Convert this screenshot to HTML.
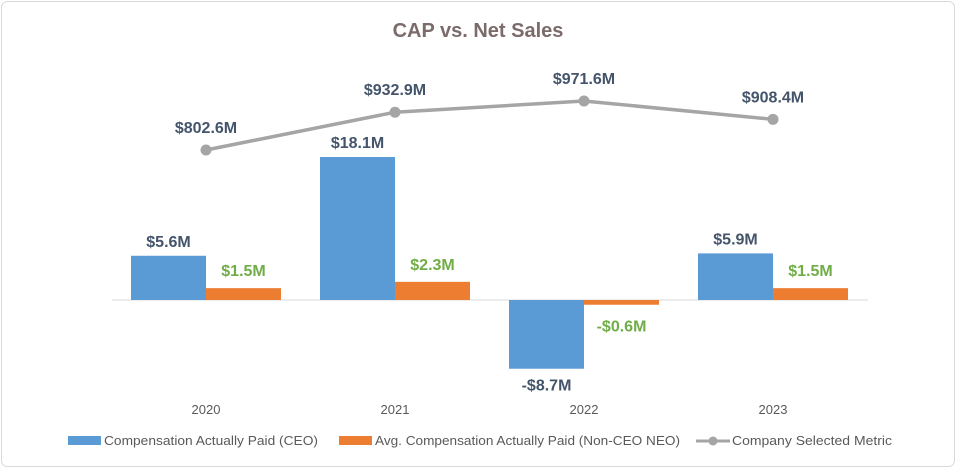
<!DOCTYPE html>
<html><head><meta charset="utf-8"><style>
body{margin:0;background:#fff;}
svg{display:block;font-family:"Liberation Sans",sans-serif;}
</style></head><body>
<svg id="chart" width="956" height="468" viewBox="0 0 956 468">
<rect x="1.5" y="1.5" width="953" height="465" rx="6" fill="#fff" stroke="#d9d9d9"/>
<text x="478" y="37" text-anchor="middle" font-size="20" font-weight="bold" fill="#7b6b6b">CAP vs. Net Sales</text>
<line x1="112" y1="300" x2="868" y2="300" stroke="#d9d9d9"/>
<g id="bars"></g><g id="line"></g><g id="labels"></g>
<g>
<rect x="68" y="436" width="33" height="9" fill="#5b9bd5"/>
<text x="104" y="445" font-size="13" fill="#595959" textLength="214" lengthAdjust="spacingAndGlyphs">Compensation Actually Paid (CEO)</text>
<rect x="339" y="436" width="33" height="9" fill="#ed7d31"/>
<text x="375" y="445" font-size="13" fill="#595959" textLength="305" lengthAdjust="spacingAndGlyphs">Avg. Compensation Actually Paid (Non-CEO NEO)</text>
<line x1="696" y1="441" x2="730" y2="441" stroke="#a5a5a5" stroke-width="3"/>
<circle cx="713" cy="441" r="4.5" fill="#a5a5a5"/>
<text x="732" y="445" font-size="13" fill="#595959" textLength="160" lengthAdjust="spacingAndGlyphs">Company Selected Metric</text>
</g>
</svg>
<script>
const categories=["2020","2021","2022","2023"];
const ceoValues=[5.6,18.1,-8.7,5.9];
const neoValues=[1.5,2.3,-0.6,1.5];
const metricValues=[802.6,932.9,971.6,908.4];
const ns="http://www.w3.org/2000/svg";
const svg=document.getElementById('chart');
function mk(t,a,p){const e=document.createElementNS(ns,t);for(const k in a)e.setAttribute(k,a[k]);p.appendChild(e);return e;}
const x0=206,step=189,bw=75;
function xC(i){return x0+i*step;}
function yB(v){return 300-v*7.9;}
function yL(v){return 150-(v-802.6)*0.29;}
function fmt(v){return (v<0?"-$":"$")+Math.abs(v).toFixed(1)+"M";}
const gb=document.getElementById('bars'),gl=document.getElementById('line'),gt=document.getElementById('labels');
categories.forEach((c,i)=>{
 const cx=xC(i);
 let y1=yB(ceoValues[i]);
 let r=mk('rect',{x:cx-bw,y:Math.min(y1,300),width:bw,height:Math.abs(300-y1),fill:'#5b9bd5'},gb);
 
 
 let y2=yB(neoValues[i]);
 r=mk('rect',{x:cx,y:Math.min(y2,300),width:bw,height:Math.abs(300-y2),fill:'#ed7d31'},gb);
 
 
 let t=mk('text',{x:cx-bw/2,y:ceoValues[i]>=0?y1-9:y1+22,'text-anchor':'middle','font-size':16,'font-weight':'bold',fill:'#44546a'},gt);
 t.textContent=fmt(ceoValues[i]);
 
 
 t=mk('text',{x:cx+bw/2,y:neoValues[i]>=0?y2-12:y2+27,'text-anchor':'middle','font-size':16,'font-weight':'bold',fill:'#70ad47'},gt);
 t.textContent=fmt(neoValues[i]);
 
 
 t=mk('text',{x:cx,y:414,'text-anchor':'middle','font-size':13,fill:'#595959'},gt);
 t.textContent=c;
 
 
});
const pts=metricValues.map((v,i)=>xC(i)+','+yL(v)).join(' ');
const pl=mk('polyline',{points:pts,fill:'none',stroke:'#a5a5a5','stroke-width':3.5},gl);


metricValues.forEach((v,i)=>{
 const c=mk('circle',{cx:xC(i),cy:yL(v),r:5.5,fill:'#a5a5a5'},gl);
 
 
 const t=mk('text',{x:xC(i),y:yL(v)-17,'text-anchor':'middle','font-size':16,'font-weight':'bold',fill:'#44546a'},gt);
 t.textContent=fmt(v);
 
 
});
</script>
</body></html>
